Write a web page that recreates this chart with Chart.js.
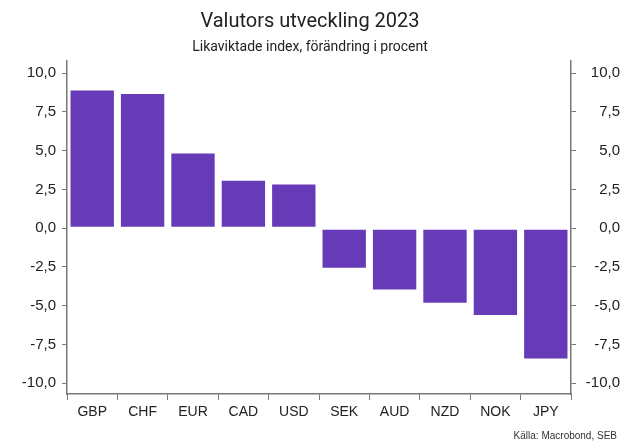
<!DOCTYPE html>
<html>
<head>
<meta charset="utf-8">
<script src="https://cdn.jsdelivr.net/npm/chart.js@4"></script>
<style>
  html, body { margin: 0; padding: 0; background: #fff; }
  #wrap { width: 622px; height: 442px; }
</style>
</head>
<body>
<div id="wrap"><canvas id="chart" width="622" height="442"></canvas></div>
<script>
// Valutor och förändring 2023 (procent)
const currencies = ['GBP', 'CHF', 'EUR', 'CAD', 'USD', 'SEK', 'AUD', 'NZD', 'NOK', 'JPY'];
const changes = [8.95, 8.73, 4.88, 3.12, 2.88, -2.62, -4.02, -4.88, -5.66, -8.47];
const yTicks = [-10, -7.5, -5, -2.5, 0, 2.5, 5, 7.5, 10];

const titleText = 'Valutors utveckling 2023';
const subtitleText = 'Likaviktade index, förändring i procent';
const sourceText = 'Källa: Macrobond, SEB';

const axisColor = '#777';
const textColor = '#222';

function fmt(v) {
    return v.toFixed(1).replace('.', ',');
}

// källtext nere till höger
const sourcePlugin = {
    id: 'source',
    afterDraw(chart) {
        const ctx = chart.ctx;
        ctx.save();
        ctx.font = '10px "Liberation Sans", Arial, sans-serif';
        ctx.fillStyle = '#333';
        ctx.textAlign = 'right';
        ctx.textBaseline = 'middle';
        ctx.fillText(sourceText, 617, 436);
        ctx.restore();
    }
};

function yAxis(position, width, align) {
    return {
        position: position,
        min: -10.7,
        max: 10.8,
        afterBuildTicks: axis => { axis.ticks = yTicks.map(v => ({ value: v })); },
        afterFit: axis => { axis.width = width; },
        border: { display: true, color: axisColor, width: 1.5 },
        grid: { drawOnChartArea: false, drawTicks: true, tickLength: 5, color: axisColor, lineWidth: 1 },
        ticks: {
            color: textColor,
            padding: 6,
            crossAlign: align,
            font: { family: '"Liberation Sans", Arial, sans-serif', size: 15 },
            callback: v => fmt(v)
        }
    };
}

const ctx = document.getElementById('chart').getContext('2d');
new Chart(ctx, {
    type: 'bar',
    data: {
        labels: currencies,
        datasets: [{
            data: changes,
            yAxisID: 'y',
            backgroundColor: '#673ab7',
            borderColor: 'rgba(255,255,255,0.55)',
            borderWidth: 1,
            borderSkipped: false,
            categoryPercentage: 1,
            barPercentage: 0.9
        }]
    },
    options: {
        responsive: false,
        animation: false,
        layout: { padding: { left: 0, right: 2, top: 0, bottom: 18 } },
        plugins: {
            legend: { display: false },
            tooltip: { enabled: false },
            title: {
                display: true,
                text: titleText,
                color: textColor,
                font: { family: 'Roboto, sans-serif', size: 20, weight: 'normal' },
                padding: { top: 10, bottom: 2 }
            },
            subtitle: {
                display: true,
                text: subtitleText,
                color: textColor,
                font: { family: 'Roboto, sans-serif', size: 14, weight: 'normal' },
                padding: { top: 3, bottom: 5 }
            }
        },
        scales: {
            x: {
                afterFit: axis => { axis.height = 30; },
                border: { display: true, color: axisColor, width: 1.5 },
                grid: { offset: true, drawOnChartArea: false, drawTicks: true, tickLength: 6, color: axisColor },
                ticks: {
                    color: textColor,
                    padding: 4,
                    font: { family: '"Liberation Sans", Arial, sans-serif', size: 14 }
                }
            },
            y: yAxis('left', 67, 'near'),
            y2: yAxis('right', 49, 'far')
        }
    },
    plugins: [sourcePlugin]
});
</script>
</body>
</html>
